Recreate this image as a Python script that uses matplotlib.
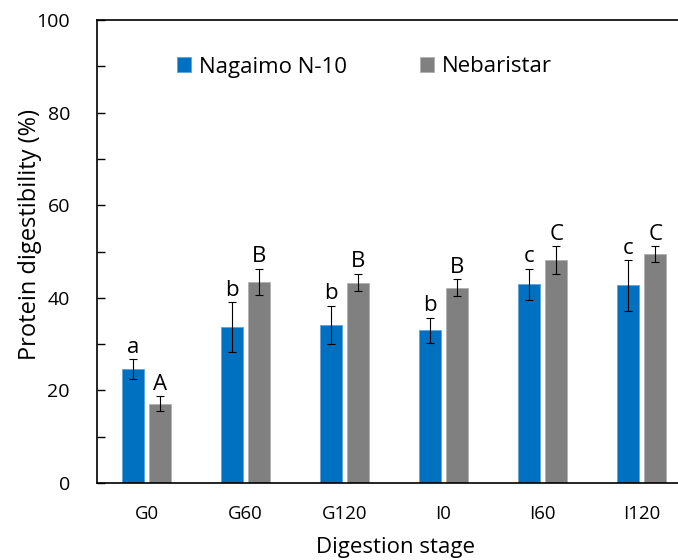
import numpy as np
import matplotlib
matplotlib.use('Agg')
import matplotlib.pyplot as plt
from matplotlib.ticker import MultipleLocator

# data
stages = ['G0', 'G60', 'G120', 'I0', 'I60', 'I120']
nagaimo = [24.6, 33.7, 34.2, 33.0, 42.9, 42.7]
nagaimo_err = [2.1, 5.3, 4.1, 2.7, 3.4, 5.5]
nebaristar = [17.1, 43.5, 43.3, 42.2, 48.2, 49.4]
nebaristar_err = [1.6, 2.8, 1.9, 1.8, 3.0, 1.7]
letters_n = ['a', 'b', 'b', 'b', 'c', 'c']
letters_b = ['A', 'B', 'B', 'B', 'C', 'C']

plt.rcParams['font.family'] = ['Open Sans', 'DejaVu Sans']

fig = plt.figure(figsize=(6.78, 5.6), dpi=100)
ax = fig.add_axes([97 / 678, 1 - 483 / 560, 594 / 678, 463 / 560])

x = np.arange(len(stages))
w = 0.22
off = 0.138
blue = '#0070C0'
grey = '#808080'

ax.bar(x - off, nagaimo, w, color=blue, edgecolor='#5fa3d9', linewidth=0.6,
       label='Nagaimo N-10', zorder=2)
ax.bar(x + off, nebaristar, w, color=grey, edgecolor='#b0b0b0', linewidth=0.6,
       label='Nebaristar', zorder=2)
ax.errorbar(x - off, nagaimo, yerr=nagaimo_err, fmt='none', ecolor='black',
            elinewidth=0.8, capsize=3.2, capthick=0.8, zorder=3)
ax.errorbar(x + off, nebaristar, yerr=nebaristar_err, fmt='none', ecolor='black',
            elinewidth=0.8, capsize=3.2, capthick=0.8, zorder=3)

# significance letters
for i in range(len(stages)):
    ax.annotate(letters_n[i], (x[i] - off, nagaimo[i] + nagaimo_err[i]),
                xytext=(0, 4.5), textcoords='offset points', ha='center',
                va='baseline', fontsize=16)
    ax.annotate(letters_b[i], (x[i] + off, nebaristar[i] + nebaristar_err[i]),
                xytext=(0, 4.5), textcoords='offset points', ha='center',
                va='baseline', fontsize=16)

ax.set_xlim(-0.5, 5.5)
ax.set_ylim(0, 100)
ax.set_xticks(x)
ax.set_xticklabels(stages)
ax.yaxis.set_major_locator(MultipleLocator(20))
ax.yaxis.set_minor_locator(MultipleLocator(10))
ax.tick_params(axis='x', length=0, pad=15.5, labelsize=13.4)
ax.tick_params(axis='y', which='both', direction='in', length=6, width=1,
               pad=19.5, labelsize=14)

for s in ['left', 'bottom', 'top']:
    ax.spines[s].set_linewidth(1.2)
ax.spines['right'].set_visible(False)

ax.set_xlabel('Digestion stage', fontsize=16)
ax.set_ylabel('Protein digestibility (%)', fontsize=17)
ax.xaxis.set_label_coords(0.502, -0.117)
ax.yaxis.set_label_coords(-0.092, 0.536)

fig.legend(loc='center', bbox_to_anchor=(364.5 / 678, 1 - 67 / 560), ncol=2,
           frameon=False, fontsize=16, handlelength=0.63, handleheight=0.63,
           handletextpad=0.36, columnspacing=3.3, borderpad=0)

fig.savefig('out.png', dpi=100)
